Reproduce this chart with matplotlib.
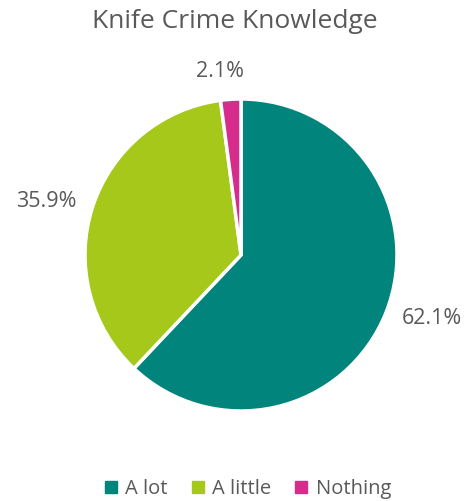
import numpy as np
import matplotlib.pyplot as plt
from matplotlib.lines import Line2D

plt.rcParams['font.family'] = ['Open Sans', 'DejaVu Sans']

labels = ["A lot", "A little", "Nothing"]
shares = [62.1, 35.9, 2.1]
colors = ["#00847C", "#A5C81A", "#D62D8C"]
TEXT = "#595959"

fig = plt.figure(figsize=(4.69, 5.01), dpi=100)
cx, cy, r = 241, 255, 156  # pie centre / radius in pixels
ax = fig.add_axes([(cx - r) / 469, (501 - cy - r) / 501, 2 * r / 469, 2 * r / 501])

wedges, _ = ax.pie(shares, colors=colors, startangle=90, counterclock=False,
                   wedgeprops=dict(edgecolor="white", linewidth=2.5))
ax.set_xlim(-1, 1)
ax.set_ylim(-1, 1)
ax.set_aspect("equal")

# percentage labels just outside each slice
for w, v in zip(wedges, shares):
    mid = np.deg2rad((w.theta1 + w.theta2) / 2)
    x, y = 1.11 * np.cos(mid), 1.11 * np.sin(mid)
    if abs(np.cos(mid)) < 0.2:
        ha, va = "center", "bottom"
        x -= 0.06
    else:
        ha = "left" if x > 0 else "right"
        va = "center"
    ax.text(x, y, f"{v:.1f}%", ha=ha, va=va, fontsize=15.5, color=TEXT, clip_on=False)

fig.text(0.5, 1 - 22 / 501, "Knife Crime Knowledge", ha="center", va="center",
         fontsize=19, color=TEXT)

handles = [Line2D([], [], marker="s", ls="", color=c, markersize=8) for c in colors]
fig.legend(handles, labels, loc="center", bbox_to_anchor=(246 / 469, 1 - 489 / 501),
           ncol=3, frameon=False, fontsize=14.5, labelcolor=TEXT,
           handletextpad=0.2, columnspacing=1.0, handlelength=1.0)

fig.savefig("out.png", dpi=100)
